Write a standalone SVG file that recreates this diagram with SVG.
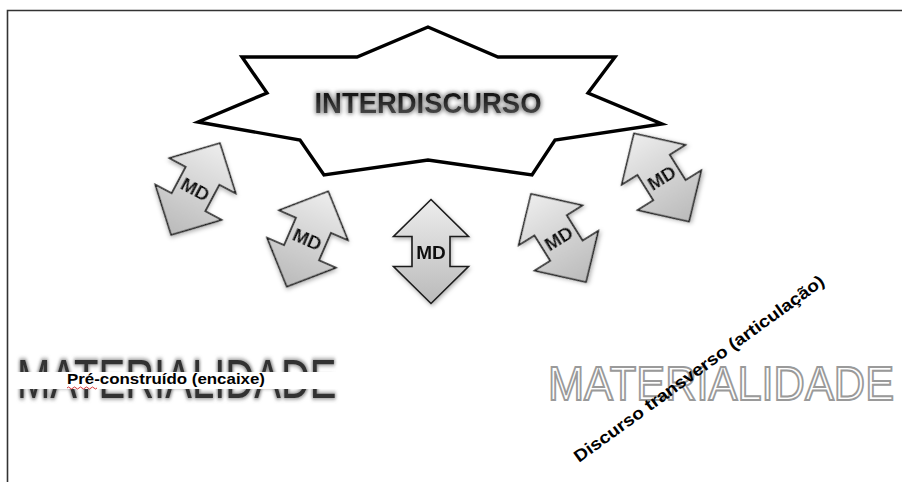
<svg xmlns="http://www.w3.org/2000/svg" width="902" height="482" viewBox="0 0 902 482">
<defs>
  <linearGradient id="arrowFill" x1="0" y1="0" x2="0" y2="1">
    <stop offset="0" stop-color="#ededed"/>
    <stop offset="1" stop-color="#bababa"/>
  </linearGradient>
  <linearGradient id="titleFill" x1="0" y1="0" x2="0" y2="1">
    <stop offset="0" stop-color="#000"/>
    <stop offset="1" stop-color="#555"/>
  </linearGradient>
  <filter id="glow" x="-10%" y="-40%" width="120%" height="180%">
    <feMorphology in="SourceAlpha" operator="dilate" radius="1" result="d"/>
    <feGaussianBlur in="d" stdDeviation="2.2" result="b"/>
    <feFlood flood-color="#7a7a7a" flood-opacity="0.9"/>
    <feComposite in2="b" operator="in" result="g"/>
    <feMerge><feMergeNode in="g"/><feMergeNode in="SourceGraphic"/></feMerge>
  </filter>
  <filter id="shadow" x="-30%" y="-30%" width="160%" height="160%">
    <feGaussianBlur in="SourceAlpha" stdDeviation="2" result="b"/>
    <feOffset in="b" dx="1" dy="2" result="o"/>
    <feFlood flood-color="#000" flood-opacity="0.3"/>
    <feComposite in2="o" operator="in" result="s"/>
    <feMerge><feMergeNode in="s"/><feMergeNode in="SourceGraphic"/></feMerge>
  </filter>
  <path id="mdArrow" d="M0,-52 L37.5,-15 L19,-15 L19,15 L37.5,15 L0,52 L-37.5,15 L-19,15 L-19,-15 L-37.5,-15 Z"/>
</defs>
<style>
  .frame { stroke: #333; stroke-width: 1.6; fill: none; }
  .arrow { fill: url(#arrowFill); stroke: #1a1a1a; stroke-width: 1.6; stroke-linejoin: miter; }
  .md { font-family: "Liberation Sans", Arial, sans-serif; font-weight: bold; font-size: 19px; fill: #111; text-anchor: middle; }
  .star { fill: #fff; stroke: #000; stroke-width: 3.4; stroke-linejoin: miter; }
  .title { font-family: "Liberation Sans", Arial, sans-serif; font-weight: bold; font-size: 30px; fill: url(#titleFill); }
  .mat1 { font-family: "Liberation Sans", Arial, sans-serif; font-size: 56px; fill: #333; }
  .mat2 { font-family: "Liberation Sans", Arial, sans-serif; font-size: 49px; fill: #fff; stroke: #9a9a9a; stroke-width: 2; }
  .label { font-family: "Liberation Sans", Arial, sans-serif; font-weight: bold; font-size: 15px; fill: #000; }
  .diag { font-family: "Liberation Sans", Arial, sans-serif; font-weight: bold; font-size: 17px; fill: #000; }
</style>

<rect width="902" height="482" fill="#fff"/>
<g id="frame">
  <path class="frame" d="M7.5,482 L7.5,10.5 L902,10.5"/>
</g>

<g id="interdiscurso">
  <polygon class="star" points="428,27 357,57 242,57 267,93 198,122 300,140 324,175 428,160 532,175 555,140 662,124 588,93 615,57 498,57"/>
  <text class="title" x="428" y="113" text-anchor="middle" textLength="227" lengthAdjust="spacingAndGlyphs" filter="url(#glow)">INTERDISCURSO</text>
</g>

<g id="connectors">
  <g id="md1" transform="translate(195.5,189) rotate(28)" filter="url(#shadow)">
    <use href="#mdArrow" class="arrow"/>
    <text class="md" x="0" y="7">MD</text>
  </g>
  <g id="md2" transform="translate(307.5,239) rotate(23.5)" filter="url(#shadow)">
    <use href="#mdArrow" class="arrow"/>
    <text class="md" x="0" y="7">MD</text>
  </g>
  <g id="md3" transform="translate(431,251.5)" filter="url(#shadow)">
    <use href="#mdArrow" class="arrow"/>
    <text class="md" x="0" y="7">MD</text>
  </g>
  <g id="md4" transform="translate(558.5,238) rotate(-32)" filter="url(#shadow)">
    <use href="#mdArrow" class="arrow"/>
    <text class="md" x="0" y="7">MD</text>
  </g>
  <g id="md5" transform="translate(661.5,177.5) rotate(-32)" filter="url(#shadow)">
    <use href="#mdArrow" class="arrow"/>
    <text class="md" x="0" y="7">MD</text>
  </g>
</g>

<g id="materialidade-left">
  <text class="mat1" transform="translate(17,398) scale(0.715,1)" x="0" y="0" filter="url(#glow)">MATERIALIDADE</text>
  <rect x="14" y="372" width="328" height="17" fill="#fff"/>
  <text class="label" x="67" y="384" textLength="198" lengthAdjust="spacingAndGlyphs">Pré-construído  (encaixe)</text>
  <path d="M67,388 q1.5,-2 3,0 t3,0 t3,0 t3,0 t3,0 t3,0 t3,0 t3,0 t3,0 t3,0" fill="none" stroke="#d02020" stroke-width="0.9"/>
</g>

<g id="materialidade-right">
  <text class="mat2" transform="translate(548,400) scale(0.885,1)" x="0" y="0">MATERIALIDADE</text>
</g>

<g id="discurso-transverso">
  <text class="diag" transform="translate(579,463) rotate(-36)" x="0" y="0" textLength="305" lengthAdjust="spacingAndGlyphs">Discurso transverso (articulação)</text>
</g>
</svg>
